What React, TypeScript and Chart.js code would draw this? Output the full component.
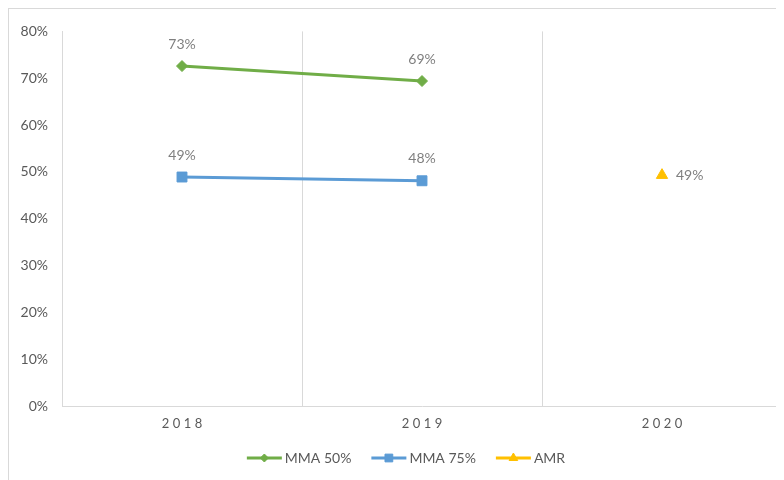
import React, { useEffect, useRef } from "react";
import { Chart, registerables } from "chart.js";
import { drawPoint } from "chart.js/helpers";

Chart.register(...registerables);

const categories = ["2018", "2019", "2020"];
const mma50 = [72.6, 69.4, null];
const mma75 = [48.9, 48.1, null];
const amr = [null, null, 49.3];
const yTicks = [0, 10, 20, 30, 40, 50, 60, 70, 80];

const FONT = "Lato, 'Open Sans', 'Liberation Sans', sans-serif";
const GRID = "#d9d9d9";
const TICK = "#595959";
const LABEL = "#7f7f7f";

const seriesMeta = [
  { label: "MMA 50%", color: "#70AD47", style: "rectRot", radius: 5.5, labelPos: "top" },
  { label: "MMA 75%", color: "#5B9BD5", style: "rect", radius: 7, labelPos: "top" },
  { label: "AMR", color: "#FFC000", style: "triangle", radius: 6.5, labelPos: "right" },
];

const extrasPlugin = {
  id: "extras",
  afterDatasetsDraw(chart: any) {
    const ctx = chart.ctx;
    ctx.save();
    // data labels
    ctx.font = `14px ${FONT}`;
    chart.data.datasets.forEach((ds: any, i: number) => {
      const meta = chart.getDatasetMeta(i);
      meta.data.forEach((pt: any, j: number) => {
        const v = ds.data[j];
        if (v == null) return;
        const txt = Math.round(v) + "%";
        ctx.fillStyle = LABEL;
        if (seriesMeta[i].labelPos === "top") {
          ctx.textAlign = "center";
          ctx.textBaseline = "middle";
          ctx.fillText(txt, pt.x, pt.y - 22);
        } else {
          ctx.textAlign = "left";
          ctx.textBaseline = "middle";
          ctx.fillText(txt, pt.x + 14, pt.y);
        }
      });
    });
    // x labels with letter spacing
    const xs = chart.scales.x;
    ctx.fillStyle = TICK;
    ctx.font = `13px ${FONT}`;
    (ctx as any).letterSpacing = "3.5px";
    ctx.textAlign = "center";
    ctx.textBaseline = "middle";
    categories.forEach((c, k) => {
      ctx.fillText(c, xs.getPixelForValue(k) + 1.75, chart.chartArea.bottom + 18);
    });
    (ctx as any).letterSpacing = "0px";
    // legend
    ctx.font = `14px ${FONT}`;
    const lineLen = 35;
    const gap = 3;
    const itemGap = 20;
    const widths = seriesMeta.map((m) => lineLen + gap + ctx.measureText(m.label).width);
    const total = widths.reduce((a, b) => a + b, 0) + itemGap * (seriesMeta.length - 1);
    let x = 397 - total / 2;
    const y = chart.chartArea.bottom + 52;
    seriesMeta.forEach((m, i) => {
      ctx.strokeStyle = m.color;
      ctx.lineWidth = 3;
      ctx.beginPath();
      ctx.moveTo(x, y);
      ctx.lineTo(x + lineLen, y);
      ctx.stroke();
      ctx.fillStyle = m.color;
      ctx.strokeStyle = m.color;
      ctx.lineWidth = 1;
      drawPoint(ctx, { pointStyle: m.style, radius: m.radius - 1.5, borderWidth: 1, rotation: 0 } as any, x + lineLen / 2, y);
      ctx.fillStyle = TICK;
      ctx.textAlign = "left";
      ctx.textBaseline = "middle";
      ctx.fillText(m.label, x + lineLen + gap, y);
      x += widths[i] + itemGap;
    });
    ctx.restore();
  },
};

export default function App() {
  const ref = useRef<HTMLCanvasElement>(null);
  useEffect(() => {
    document.body.style.overflow = "hidden";
    const datasets = [mma50, mma75, amr].map((d, i) => ({
      label: seriesMeta[i].label,
      data: d,
      borderColor: seriesMeta[i].color,
      backgroundColor: seriesMeta[i].color,
      borderWidth: 3,
      pointStyle: seriesMeta[i].style,
      pointRadius: seriesMeta[i].radius,
      pointBorderWidth: 1,
      spanGaps: false,
      tension: 0,
    }));
    const chart = new Chart(ref.current!, {
      type: "line",
      data: { labels: categories, datasets: datasets as any },
      options: {
        animation: false,
        responsive: false,
        layout: { padding: { top: 10, right: 27, bottom: 93, left: 0 } },
        plugins: { legend: { display: false }, tooltip: { enabled: false } },
        scales: {
          x: {
            offset: true,
            grid: { offset: true, color: GRID, lineWidth: 1, drawTicks: false },
            border: { display: true, color: GRID },
            ticks: { display: false },
          },
          y: {
            min: 0,
            max: 80,
            afterFit(scale: any) {
              scale.width = 53;
            },
            afterBuildTicks(scale: any) {
              scale.ticks = yTicks.map((v) => ({ value: v }));
            },
            grid: { display: false, drawTicks: false },
            border: { display: true, color: GRID },
            ticks: {
              color: TICK,
              font: { family: FONT, size: 14 },
              padding: 14,
              callback: (v: any) => v + "%",
            },
          },
        },
      },
      plugins: [extrasPlugin],
    });
    return () => chart.destroy();
  }, []);
  return (
    <div style={{ border: "1px solid #d9d9d9", width: 800, height: 490, boxSizing: "content-box" }}>
      <canvas ref={ref} width={800} height={490} style={{ display: "block" }} />
    </div>
  );
}
